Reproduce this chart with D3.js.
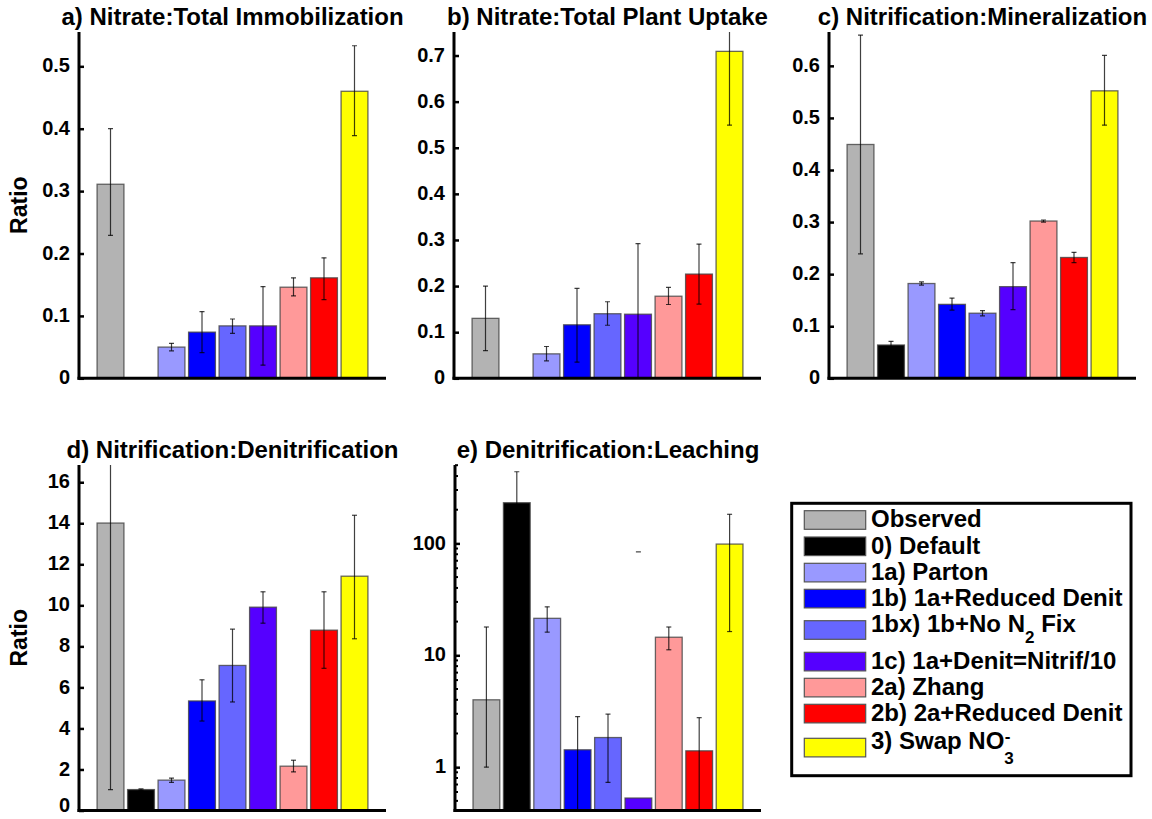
<!DOCTYPE html>
<html>
<head>
<meta charset="utf-8">
<script src="https://cdn.jsdelivr.net/npm/d3@7"></script>
<style>
  body { margin: 0; background: #fff; }
  svg text { font-family: "Liberation Sans", Arial, Helvetica, sans-serif; font-weight: bold; fill: #000; }
</style>
</head>
<body>
<div id="chart"></div>
<script>
// model runs, same order in every panel
const categories = ["Observed", "0) Default", "1a) Parton", "1b) 1a+Reduced Denit", "1bx) 1b+No N2 Fix",
                    "1c) 1a+Denit=Nitrif/10", "2a) Zhang", "2b) 2a+Reduced Denit", "3) Swap NO3-"];
const barColors = ["#b3b3b3", "#000000", "#9999ff", "#0000ff", "#6666ff", "#5500ff", "#ff9999", "#ff0000", "#ffff00"];

// a) Nitrate:Total Immobilization
const immobValues = [0.311, null, 0.050, 0.074, 0.084, 0.084, 0.146, 0.161, 0.460];
const immobLow    = [0.229, null, 0.044, 0.041, 0.072, 0.021, 0.132, 0.126, 0.389];
const immobHigh   = [0.400, null, 0.056, 0.107, 0.095, 0.147, 0.161, 0.193, 0.533];

// b) Nitrate:Total Plant Uptake
const uptakeValues = [0.130, null, 0.053, 0.116, 0.140, 0.139, 0.178, 0.226, 0.709];
const uptakeLow    = [0.060, null, 0.038, 0.035, 0.115, 0.000, 0.160, 0.161, 0.549];
const uptakeHigh   = [0.200, null, 0.069, 0.195, 0.166, 0.292, 0.197, 0.291, 0.870];

// c) Nitrification:Mineralization
const mineralValues = [0.449, 0.064, 0.182, 0.142, 0.125, 0.176, 0.302, 0.232, 0.552];
const mineralLow    = [0.239, 0.058, 0.179, 0.131, 0.120, 0.132, 0.300, 0.222, 0.486];
const mineralHigh   = [0.659, 0.071, 0.185, 0.154, 0.130, 0.222, 0.304, 0.242, 0.620];

// d) Nitrification:Denitrification
const denitValues = [14.01, 1.02, 1.48, 5.34, 7.07, 9.91, 2.16, 8.79, 11.42];
const denitLow    = [1.02, 0.98, 1.37, 4.36, 5.29, 9.13, 1.88, 6.93, 8.37];
const denitHigh   = [17.2, 1.05, 1.58, 6.37, 8.84, 10.66, 2.45, 10.66, 14.39];

// e) Denitrification:Leaching (log axis)
const leachValues = [4.0, 231, 21.4, 1.43, 1.84, 0.53, 14.5, 1.40, 98.6];
const leachLow    = [1.0, 150, 16.1, 0.2, 0.73, null, 11.2, 0.2, 16.3];
const leachHigh   = [17.9, 437, 27.1, 2.83, 2.98, 84, 17.9, 2.77, 182];

const ticksImmob = [0, 0.1, 0.2, 0.3, 0.4, 0.5];
const ticksUptake = [0, 0.1, 0.2, 0.3, 0.4, 0.5, 0.6, 0.7];
const ticksMineral = [0, 0.1, 0.2, 0.3, 0.4, 0.5, 0.6];
const ticksDenit = [0, 2, 4, 6, 8, 10, 12, 14, 16];
const ticksLeach = [1, 10, 100];

const width = 1152, height = 819;

const svg = d3.select("#chart").append("svg")
  .attr("width", width)
  .attr("height", height);

const panels = [
  {title: "a) Nitrate:Total Immobilization", v: immobValues, lo: immobLow, hi: immobHigh,
   x0: 79, x1: 386, y0: 32, y1: 378.3, domain: [0, 0.555], ticks: ticksImmob, ylabel: true},
  {title: "b) Nitrate:Total Plant Uptake", v: uptakeValues, lo: uptakeLow, hi: uptakeHigh,
   x0: 454, x1: 761, y0: 32, y1: 378.3, domain: [0, 0.751], ticks: ticksUptake},
  {title: "c) Nitrification:Mineralization", v: mineralValues, lo: mineralLow, hi: mineralHigh,
   x0: 829, x1: 1136, y0: 32, y1: 378.3, domain: [0, 0.665], ticks: ticksMineral},
  {title: "d) Nitrification:Denitrification", v: denitValues, lo: denitLow, hi: denitHigh,
   x0: 79, x1: 386, y0: 465, y1: 810.5, domain: [0, 16.84], ticks: ticksDenit, ylabel: true},
  {title: "e) Denitrification:Leaching", v: leachValues, lo: leachLow, hi: leachHigh,
   x0: 455, x1: 761, y0: 465, y1: 810.5, domain: [0.41, 502], ticks: ticksLeach, log: true}
];

panels.forEach((p, pi) => {
  const g = svg.append("g");

  const x = d3.scaleBand()
    .domain(d3.range(categories.length))
    .range([p.x0, p.x1])
    .paddingInner(0.12)
    .paddingOuter(0.593);

  const y = (p.log ? d3.scaleLog() : d3.scaleLinear())
    .domain(p.domain)
    .range([p.y1, p.y0]);

  // clip for bars and error bars
  const clipId = "clip" + pi;
  g.append("clipPath").attr("id", clipId)
    .append("rect")
    .attr("x", p.x0).attr("y", p.y0)
    .attr("width", p.x1 - p.x0).attr("height", p.y1 - p.y0);

  const plot = g.append("g").attr("clip-path", "url(#" + clipId + ")");

  const rows = d3.range(categories.length).filter(i => p.v[i] != null);

  plot.selectAll("rect.bar")
    .data(rows)
    .enter().append("rect")
    .attr("class", "bar")
    .attr("x", i => x(i))
    .attr("width", x.bandwidth())
    .attr("y", i => y(p.v[i]))
    .attr("height", i => p.y1 - y(p.v[i]))
    .attr("fill", i => barColors[i])
    .attr("stroke", "#444")
    .attr("stroke-opacity", 0.8)
    .attr("stroke-width", 1.3);

  // error bars
  const cap = 2.5;
  rows.forEach(i => {
    const cx = x(i) + x.bandwidth() / 2;
    const hi = p.hi[i], lo = p.lo[i];
    const yHi = y(hi);
    const yLo = lo == null ? null : y(lo);
    if (yLo != null) {
      plot.append("line")
        .attr("x1", cx).attr("x2", cx)
        .attr("y1", yLo).attr("y2", yHi)
        .attr("stroke", "#000").attr("stroke-opacity", 0.75).attr("stroke-width", 1.2);
      plot.append("line")
        .attr("x1", cx - cap).attr("x2", cx + cap)
        .attr("y1", yLo).attr("y2", yLo)
        .attr("stroke", "#000").attr("stroke-opacity", 0.75).attr("stroke-width", 1.2);
    }
    plot.append("line")
      .attr("x1", cx - cap).attr("x2", cx + cap)
      .attr("y1", yHi).attr("y2", yHi)
      .attr("stroke", "#000").attr("stroke-opacity", 0.75).attr("stroke-width", 1.2);
  });

  // y axis: inward ticks
  const axis = d3.axisLeft(y)
    .tickValues(p.ticks)
    .tickSize(-5)
    .tickPadding(9)
    .tickFormat(d3.format("~g"));

  const ax = g.append("g")
    .attr("transform", "translate(" + p.x0 + ",0)")
    .call(axis);
  ax.select(".domain").remove();
  ax.selectAll(".tick line").attr("stroke", "#000").attr("stroke-width", 2.5);
  ax.selectAll(".tick text")
    .attr("font-size", 20)
    .attr("font-family", "'Liberation Sans', Arial, sans-serif")
    .attr("font-weight", "bold")
    .attr("dy", d => (d === 0 && p.y1 > 800) ? "0.05em" : "0.28em");

  if (p.log) {
    const minor = [];
    [0.1, 1, 10, 100].forEach(dec => {
      d3.range(2, 10).forEach(m => {
        const t = dec * m;
        if (t >= p.domain[0] && t <= p.domain[1]) minor.push(t);
      });
    });
    g.selectAll("line.minor")
      .data(minor)
      .enter().append("line")
      .attr("class", "minor")
      .attr("x1", p.x0).attr("x2", p.x0 + 3)
      .attr("y1", d => y(d)).attr("y2", d => y(d))
      .attr("stroke", "#000").attr("stroke-width", 2);
  }

  // axis lines
  g.append("line")
    .attr("x1", p.x0).attr("x2", p.x0)
    .attr("y1", p.y0).attr("y2", p.y1 + 1.5)
    .attr("stroke", "#000").attr("stroke-width", 3);
  g.append("line")
    .attr("x1", p.x0 - 1.5).attr("x2", p.x1)
    .attr("y1", p.y1).attr("y2", p.y1)
    .attr("stroke", "#000").attr("stroke-width", 3);

  // title
  g.append("text")
    .attr("x", (p.x0 + p.x1) / 2)
    .attr("y", p.y0 - 7.5)
    .attr("text-anchor", "middle")
    .attr("font-size", 24)
    .text(p.title);

  if (p.ylabel) {
    const cy = (p.y0 + p.y1) / 2;
    g.append("text")
      .attr("transform", "translate(27," + cy + ") rotate(-90)")
      .attr("text-anchor", "middle")
      .attr("font-size", 23)
      .text("Ratio");
  }
});

// legend
const legend = svg.append("g");
legend.append("rect")
  .attr("x", 791.7).attr("y", 503.3)
  .attr("width", 339.3).attr("height", 272.4)
  .attr("fill", "#fff")
  .attr("stroke", "#000")
  .attr("stroke-width", 3);

const legendTops = [510.7, 537, 563.3, 589.3, 620.7, 652.3, 678.3, 704.3, 738.3];

categories.forEach((c, i) => {
  legend.append("rect")
    .attr("x", 804.3).attr("y", legendTops[i])
    .attr("width", 61.4).attr("height", 18.6)
    .attr("fill", barColors[i])
    .attr("stroke", "#555")
    .attr("stroke-width", 1.2);

  const t = legend.append("text")
    .attr("x", 871)
    .attr("font-size", 24);

  if (i === 4) {
    t.attr("y", legendTops[i] + 11);
    t.append("tspan").text("1bx) 1b+No N");
    t.append("tspan").attr("dy", 11).attr("font-size", 17).text("2");
    t.append("tspan").attr("dy", -11).text(" Fix");
  } else if (i === 8) {
    t.attr("y", legendTops[i] + 11);
    t.append("tspan").text("3) Swap NO");
    t.append("tspan").attr("dy", 15).attr("font-size", 17).text("3");
    t.append("tspan").attr("dx", -9).attr("dy", -22).attr("font-size", 17).text("-");
  } else {
    t.attr("y", legendTops[i] + 16.5).text(c);
  }
});
</script>
</body>
</html>
